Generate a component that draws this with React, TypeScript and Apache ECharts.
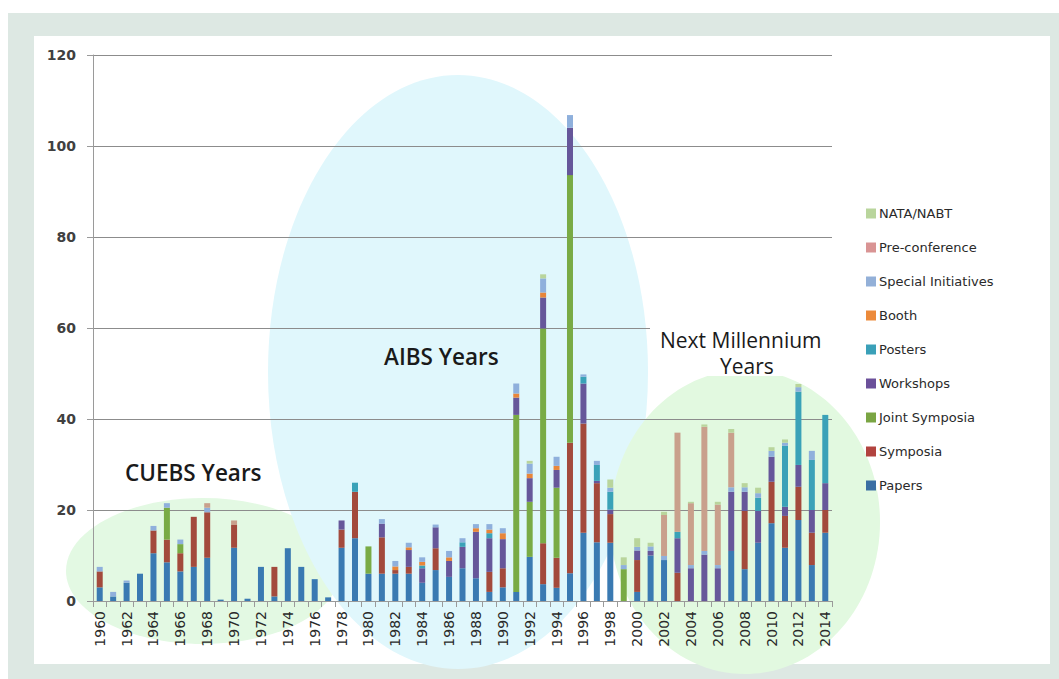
import React, { useEffect, useRef } from "react";
import * as echarts from "echarts";

const years: string[] = [];
for (let y = 1960; y <= 2014; y++) years.push(String(y));

const papers = [3,1,4,6,10.5,8.5,6.5,7.5,9.5,0.3,
  11.7,0.5,7.5,1,11.6,7.5,4.8,0.8,11.7,13.8,
  6,6,6,6,4,6.8,5.3,7.2,5,2,
  3,2,9.7,3.7,2.9,6.1,15,12.9,12.8,0,
  2,10,9,0,0,0,0,11,7,12.8,
  17.1,11.7,17.8,7.9,15];
const symposia = [3.5,0,0,0,5,5,4,11,10,0,
  5,0,0,6.5,0,0,0,0,4,10.2,
  0,8,0.8,1.5,0,4.8,0,0,0,4.4,
  4.2,0,0,9,6.6,28.7,24,13,6.3,0,
  7,0,0,6.2,0,0,0,0,12.8,0,
  9.1,7,7.3,7.1,5];
const jointSymposia = [0,0,0,0,0,7,2,0,0,0,
  0,0,0,0,0,0,0,0,0,0,
  6,0,0,0,0,0,0,0,0,0,
  0,38.9,12.1,47.2,15.4,58.8,0,0,0,7,
  0,0,0,0,0,0,0,0,0,0,
  0,0,0,0,0];
const workshops = [0,0,0,0,0,0,0,0,0,0,
  0,0,0,0,0,0,0,0,2,0,
  0,3,0,3.7,3.2,4.6,3.5,4.7,10.2,7.4,
  6.4,3.8,5.2,6.8,3.9,10.4,8.8,0.5,1,0,
  2.1,1,0,7.6,7.2,10.2,7.2,13,4.2,7,
  5.5,2,4.8,5,5.9];
const posters = [0,0,0,0,0,0,0,0,0,0,
  0,0,0,0,0,0,0,0,0,2,
  0,0,0,0,0.6,0,0,1,0,1.1,
  0,0,0,0,0,0,1.5,3.5,3.9,0,
  0,0,0,1.4,0,0,0,0,0,2.9,
  0,13.4,16.1,11,15];
const booth = [0,0,0,0,0,0,0,0,0,0,
  0,0,0,0,0,0,0,0,0,0,
  0,0,0.8,0.6,0.8,0,0.8,0,0.8,0.8,
  1.3,0.9,1,1.1,0.9,0,0,0,0,0,
  0,0,0,0,0,0,0,0,0,0,
  0,0,0,0,0];
const specialInitiatives = [1,1,0.5,0,1,1,1,0,1,0,
  0,0,0,0,0,0,0,0,0,0,
  0,1,1.2,1,1,0.6,1.4,0.9,0.9,1.2,
  1.1,2.2,2.2,3.1,2,2.8,0.5,0.9,0.9,0.9,
  0.8,1,0.9,0,0.7,0.8,0.7,1,1,1,
  1.3,0.7,1,2,0];
const preConference = [0,0,0,0,0,0,0,0,1,0,
  1,0,0,0,0,0,0,0,0,0,
  0,0,0,0,0,0,0,0,0,0,
  0,0,0,0,0,0,0,0,0,0,
  0,0,9,21.8,13.6,27.3,13.3,12,0,0,
  0,0,0,0,0];
const nataNabt = [0,0,0,0,0,0,0,0,0,0,
  0,0,0,0,0,0,0,0,0,0,
  0,0,0,0,0,0,0,0,0,0,
  0,0,0.6,0.9,0,0,0,0,1.8,1.7,
  1.9,0.8,0.7,0,0.3,0.5,0.6,0.8,0.9,1.2,
  0.8,0.7,0.7,0,0];

const seriesNames = ["Papers","Symposia","Joint Symposia","Workshops","Posters","Booth","Special Initiatives","Pre-conference","NATA/NABT"];
const seriesData = [papers, symposia, jointSymposia, workshops, posters, booth, specialInitiatives, preConference, nataNabt];
const barColors = ["#3a7ab2","#a34a3c","#79ab45","#66579a","#3aa2b8","#e8863a","#8fb0dc","#c9a08c","#b9d59c"];
const legendColors = ["#3a6ea3","#b2433f","#7aa543","#6b509a","#3aa0b8","#ec8a3a","#93b0d8","#d99494","#b9d59c"];
const yTicks = [0, 20, 40, 60, 80, 100, 120];

export default function App() {
  const ref = useRef<HTMLDivElement>(null);
  useEffect(() => {
    if (!ref.current) return;
    const chart = echarts.init(ref.current, undefined, { renderer: "svg" });
    const font = "DejaVu Sans";
    const labelFont = "600 22.5px 'Open Sans'";
    const nextFont = "500 21px 'Open Sans'";
    chart.setOption({
      animation: false,
      backgroundColor: "#ffffff",
      grid: { left: 93, top: 55, width: 739, height: 546, containLabel: false },
      graphic: [
        { type: "rect", z: 0, silent: true, shape: { x: 8, y: 13, width: 1051, height: 666 }, style: { fill: "#dde8e3" } },
        { type: "rect", z: 0, silent: true, shape: { x: 34, y: 36, width: 1016, height: 628 }, style: { fill: "#ffffff" } },
        { type: "ellipse", z: 1, silent: true, shape: { cx: 203, cy: 571, rx: 137, ry: 73 }, style: { fill: "#e3f9e3" } },
        { type: "ellipse", z: 1, silent: true, shape: { cx: 458, cy: 372, rx: 190, ry: 297 }, style: { fill: "#e0f7fc" } },
        { type: "ellipse", z: 1, silent: true, shape: { cx: 745, cy: 522, rx: 135, ry: 152 }, style: { fill: "#e2f9e0" } },
        { type: "rect", z: 9, silent: true, shape: { x: 650, y: 326, width: 184, height: 50 }, style: { fill: "#ffffff" } },
        { type: "text", z: 10, silent: true, x: 125, y: 472, style: { text: "CUEBS Years", font: labelFont, fill: "#1a1a1a", textVerticalAlign: "middle" } },
        { type: "text", z: 10, silent: true, x: 384, y: 356, style: { text: "AIBS Years", font: labelFont, fill: "#1a1a1a", textVerticalAlign: "middle" } },
        { type: "text", z: 10, silent: true, x: 660, y: 340, style: { text: "Next Millennium", font: nextFont, fill: "#1a1a1a", textVerticalAlign: "middle" } },
        { type: "text", z: 10, silent: true, x: 720, y: 366, style: { text: "Years", font: nextFont, fill: "#1a1a1a", textVerticalAlign: "middle" } }
      ],
      legend: {
        orient: "vertical",
        left: 861,
        top: 202,
        itemWidth: 10,
        itemHeight: 10,
        itemGap: 21,
        icon: "rect",
        z: 5,
        textStyle: { fontFamily: font, fontSize: 13, color: "#2a2a2a", padding: [0, 0, 0, -2] },
        data: seriesNames.map((n, i) => ({ name: n, itemStyle: { color: legendColors[i] } })).reverse()
      },
      xAxis: {
        type: "category",
        data: years,
        z: 3,
        axisLine: { lineStyle: { color: "#9a9a9a", width: 1 } },
        axisTick: { show: true, interval: 0, length: 6, lineStyle: { color: "#9a9a9a" } },
        axisLabel: { interval: 1, rotate: 90, margin: 10, fontFamily: font, fontSize: 14, color: "#2a2a2a" },
        splitLine: { show: false }
      },
      yAxis: {
        type: "value",
        min: 0,
        max: 120,
        interval: 20,
        z: 3,
        axisLine: { show: true, lineStyle: { color: "#9a9a9a", width: 1 } },
        axisTick: { show: true, length: 6, lineStyle: { color: "#9a9a9a" } },
        axisLabel: { margin: 17, fontFamily: font, fontSize: 14, fontWeight: "bold", color: "#404040",
          formatter: (v: number) => (yTicks.includes(v) ? String(v) : "") },
        splitLine: { show: true, lineStyle: { color: "#8c8c8c", width: 1 } }
      },
      series: seriesNames.map((n, i) => ({
        name: n,
        type: "bar",
        stack: "total",
        z: 4,
        barWidth: 6,
        data: seriesData[i],
        itemStyle: { color: barColors[i] }
      }))
    });
    return () => chart.dispose();
  }, []);
  return <div ref={ref} style={{ position: "absolute", left: 0, top: 0, width: 1059, height: 679 }} />;
}
